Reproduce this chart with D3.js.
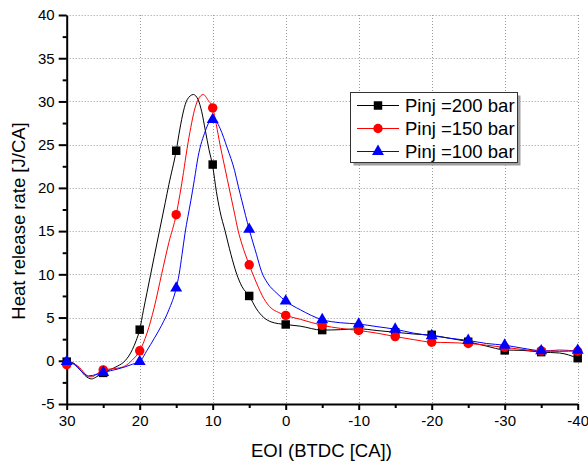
<!DOCTYPE html>
<html>
<head>
<meta charset="utf-8">
<script src="https://cdn.jsdelivr.net/npm/d3@7"></script>
<style>
  html, body { margin: 0; padding: 0; background: #fff; }
  svg { display: block; font-family: "Liberation Sans", Arial, sans-serif; }
</style>
</head>
<body>
<svg id="chart" width="588" height="465"></svg>
<script>
// ---------- data ----------
const xTickLabels = [30, 20, 10, 0, -10, -20, -30, -40];
const yTickLabels = [-5, 0, 5, 10, 15, 20, 25, 30, 35, 40];
const seriesNames = ["Pinj =200 bar", "Pinj =150 bar", "Pinj =100 bar"];

// marker positions (every 5 CA)
const markerX = [30, 25, 20, 15, 10, 5, 0, -5, -10, -15, -20, -25, -30, -35, -40];
const marker200 = [-0.1, -1.4, 3.6, 24.3, 22.7, 7.5, 4.2, 3.55, 3.7, 3.3, 3.0, 2.2, 1.2, 1.0, 0.3];
const marker150 = [-0.45, -1.05, 1.15, 16.9, 29.25, 11.1, 5.25, 4.1, 3.5, 2.8, 2.15, 2.0, 1.55, 1.15, 1.1];
const marker100 = [-0.1, -1.35, -0.1, 8.4, 27.9, 15.2, 6.9, 4.75, 4.25, 3.65, 2.9, 2.35, 1.8, 1.15, 1.2];

// continuous curves
const line200X = [30, 29, 28.5, 28, 27.5, 27, 26.6, 26, 25, 24, 23, 22, 21, 20.5, 20, 19.5, 19, 18.5, 18, 17.3, 16.5, 16, 15, 14.5, 14, 13.5, 12.65, 12, 11.5, 11, 10.5, 10, 9.5, 9, 8.3, 7.5, 6.7, 6, 5, 4, 3, 2, 1, 0, -2, -5, -7.5, -10, -12.5, -15, -17.5, -20, -22.5, -25, -27.5, -30, -32.5, -35, -37.5, -40];
const line200Y = [-0.05, -0.3, -0.7, -1.2, -1.7, -2.0, -2.1, -1.9, -1.4, -1.0, -0.6, 0.0, 1.3, 2.3, 3.6, 5.8, 7.9, 10.0, 12.1, 15.0, 18.3, 20.4, 24.3, 26.8, 28.9, 30.2, 30.8, 30.2, 28.8, 26.6, 24.4, 22.5, 19.6, 17.3, 15.0, 12.3, 10.0, 8.6, 7.5, 6.0, 5.0, 4.5, 4.3, 4.2, 4.0, 3.55, 3.6, 3.7, 3.5, 3.3, 3.1, 2.95, 2.6, 2.2, 1.7, 1.25, 1.2, 1.0, 0.9, 0.3];

const line150X = [30, 29, 28.5, 28, 27.5, 27, 26.5, 26, 25, 24, 23, 22, 21, 20, 19, 18, 17, 16, 15, 14.5, 14, 13.5, 13, 12.5, 12, 11.3, 10.6, 10, 9.5, 9, 8.5, 8, 7.5, 7, 6.5, 6, 5, 4, 3, 2, 1, 0, -2, -5, -7.5, -10, -12.5, -15, -17.5, -20, -22.5, -25, -27.5, -30, -32.5, -35, -37.5, -40];
const line150Y = [-0.2, -0.35, -0.6, -1.0, -1.5, -1.85, -1.85, -1.6, -1.05, -0.95, -0.85, -0.6, 0.1, 1.15, 3.2, 6.2, 10.0, 13.7, 16.9, 19.2, 21.8, 24.6, 27.0, 29.0, 30.2, 30.8, 30.1, 29.25, 27.3, 25.0, 23.0, 21.0, 19.0, 17.0, 15.0, 13.5, 11.1, 9.0, 7.2, 6.1, 5.6, 5.25, 4.8, 4.1, 3.75, 3.5, 3.2, 2.8, 2.45, 2.15, 2.1, 2.0, 1.8, 1.55, 1.3, 1.1, 1.25, 1.1];

const line100X = [30, 29, 28.5, 28, 27.5, 27, 26, 25, 24, 23, 22, 21, 20, 19, 18, 17, 16, 15, 14.6, 14.2, 13.8, 13, 12.5, 12, 11, 10.5, 10, 9.5, 9, 8, 7, 6.5, 6, 5, 4, 3.3, 2.5, 1.2, 0, -2, -5, -7.5, -10, -12.5, -15, -17.5, -20, -22.5, -25, -27.5, -30, -32.5, -35, -37.5, -40];
const line100Y = [-0.1, -0.4, -0.8, -1.2, -1.55, -1.75, -1.6, -1.35, -1.15, -0.95, -0.7, -0.4, -0.1, 1.2, 2.6, 4.1, 5.9, 8.4, 10.0, 12.3, 14.7, 18.5, 21.0, 23.6, 26.6, 27.6, 28.0, 27.7, 26.9, 24.6, 22.0, 20.2, 18.5, 15.2, 12.3, 10.3, 9.0, 7.8, 6.9, 5.9, 4.75, 4.4, 4.25, 3.95, 3.65, 3.2, 2.9, 2.6, 2.35, 2.0, 1.8, 1.45, 1.15, 1.1, 1.15];

// ---------- chart ----------
const svg = d3.select("#chart");
const x = d3.scaleLinear().domain([30, -40]).range([66.7, 577.7]);
const y = d3.scaleLinear().domain([-5, 40]).range([404, 15]);

// grid
const grid = svg.append("g").attr("stroke", "#9a9a9a").attr("stroke-width", 1).attr("stroke-dasharray", "1,2");
grid.selectAll("line.gx").data(xTickLabels.filter(d => d !== 30)).join("line")
  .attr("x1", d => Math.round(x(d)) + 0.5).attr("x2", d => Math.round(x(d)) + 0.5)
  .attr("y1", y(40)).attr("y2", y(-5));
grid.selectAll("line.gy").data(yTickLabels.filter(d => d !== -5)).join("line")
  .attr("y1", d => Math.round(y(d)) + 0.5).attr("y2", d => Math.round(y(d)) + 0.5)
  .attr("x1", x(30)).attr("x2", x(-40));

// minor ticks
const xMinor = d3.range(25, -40, -10);
const yMinor = d3.range(-2.5, 40, 5);
svg.append("g").attr("transform", `translate(0,${y(-5)})`)
  .call(d3.axisBottom(x).tickValues(xMinor).tickSize(4).tickSizeOuter(0).tickFormat(""))
  .call(g => g.select(".domain").remove())
  .call(g => g.selectAll("line").attr("stroke", "#000").attr("stroke-width", 2));
svg.append("g").attr("transform", `translate(${x(30)},0)`)
  .call(d3.axisLeft(y).tickValues(yMinor).tickSize(4).tickSizeOuter(0).tickFormat(""))
  .call(g => g.select(".domain").remove())
  .call(g => g.selectAll("line").attr("stroke", "#000").attr("stroke-width", 2));

// main axes
const xAxis = svg.append("g").attr("transform", `translate(0,${y(-5)})`)
  .call(d3.axisBottom(x).tickValues(xTickLabels).tickSize(6).tickSizeOuter(0).tickPadding(5).tickFormat(d => String(d)));
const yAxis = svg.append("g").attr("transform", `translate(${x(30)},0)`)
  .call(d3.axisLeft(y).tickValues(yTickLabels).tickSize(8).tickSizeOuter(0).tickPadding(4).tickFormat(d => String(d)));
[xAxis, yAxis].forEach(g => {
  g.select(".domain").attr("stroke", "#000").attr("stroke-width", 2);
  g.selectAll(".tick line").attr("stroke", "#000").attr("stroke-width", 2);
  g.selectAll(".tick text").attr("fill", "#000").style("font-size", "15px")
    .style("font-family", "'Liberation Sans', Arial, sans-serif");
});

// axis titles
svg.append("text").attr("x", 321.4).attr("y", 457).attr("text-anchor", "middle")
  .style("font-size", "18.5px").text("EOI (BTDC [CA])");
svg.append("text").attr("transform", "translate(25,221) rotate(-90)").attr("text-anchor", "middle")
  .style("font-size", "18.5px").text("Heat release rate [J/CA]");

// series
const series = [
  { name: seriesNames[0], color: "#000000", lx: line200X, ly: line200Y, my: marker200, sym: d3.symbolSquare, size: 72 },
  { name: seriesNames[1], color: "#ff0000", lx: line150X, ly: line150Y, my: marker150, sym: d3.symbolCircle, size: 70 },
  { name: seriesNames[2], color: "#0000ff", lx: line100X, ly: line100Y, my: marker100, sym: d3.symbolTriangle, size: 62 }
];

const line = d3.line().x(d => x(d[0])).y(d => y(d[1])).curve(d3.curveMonotoneX);

series.forEach(s => {
  const pts = s.lx.map((v, i) => [v, s.ly[i]]);
  svg.append("path").datum(pts).attr("d", line)
    .attr("fill", "none").attr("stroke", s.color).attr("stroke-width", 1);
});
series.forEach(s => {
  svg.append("g").selectAll("path").data(markerX.map((v, i) => [v, s.my[i]])).join("path")
    .attr("transform", d => `translate(${x(d[0])},${y(d[1])})`)
    .attr("d", d3.symbol().type(s.sym).size(s.size))
    .attr("fill", s.color);
});

// legend
const lg = svg.append("g");
lg.append("rect").attr("x", 353.5).attr("y", 95.5).attr("width", 167).attr("height", 70).attr("fill", "#a0a0a0");
lg.append("rect").attr("x", 350.5).attr("y", 92.5).attr("width", 167).attr("height", 70)
  .attr("fill", "#fff").attr("stroke", "#333").attr("stroke-width", 1);
series.forEach((s, i) => {
  const cy = 105.5 + i * 23;
  lg.append("line").attr("x1", 357).attr("x2", 399).attr("y1", cy).attr("y2", cy)
    .attr("stroke", s.color).attr("stroke-width", 1);
  lg.append("path").attr("transform", `translate(378,${cy})`)
    .attr("d", d3.symbol().type(s.sym).size(s.size)).attr("fill", s.color);
  lg.append("text").attr("x", 405).attr("y", cy + 6.5).style("font-size", "18.5px").text(s.name);
});
</script>
</body>
</html>
